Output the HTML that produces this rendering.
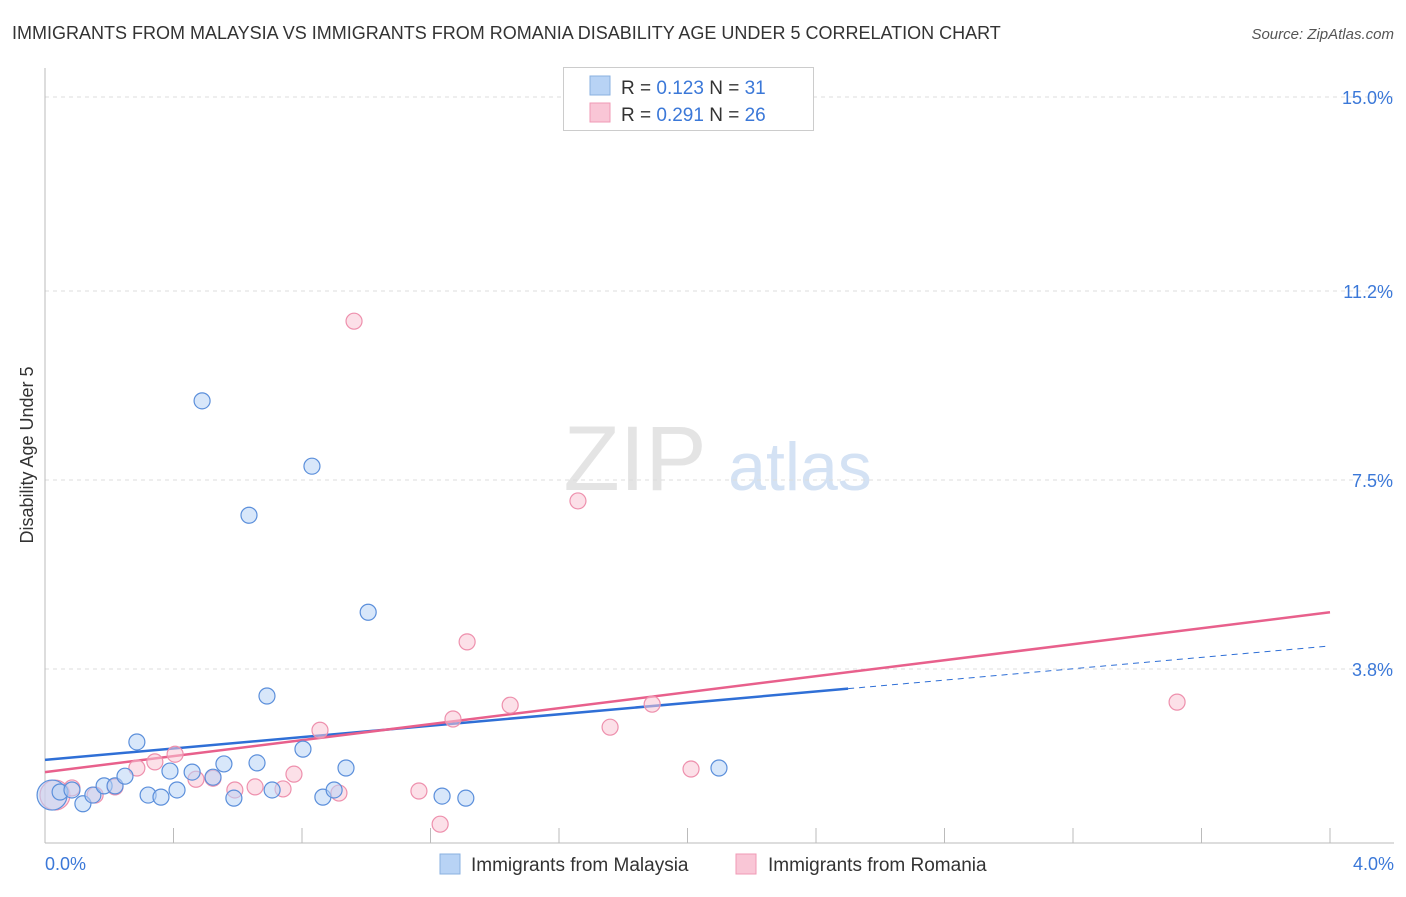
<!DOCTYPE html>
<html><head><meta charset="utf-8">
<style>
body{margin:0;background:#fff;font-family:"Liberation Sans",sans-serif;}
svg text{font-family:"Liberation Sans",sans-serif;}
</style></head>
<body>
<svg id="c" width="1406" height="892" viewBox="0 0 1406 892" xmlns="http://www.w3.org/2000/svg">
<text x="12" y="39" font-size="18" fill="#333">IMMIGRANTS FROM MALAYSIA VS IMMIGRANTS FROM ROMANIA DISABILITY AGE UNDER 5 CORRELATION CHART</text>
<text x="1394" y="39" font-size="15" fill="#555" font-style="italic" text-anchor="end">Source: ZipAtlas.com</text>
<text x="0" y="0" font-size="18" fill="#333" text-anchor="middle" transform="translate(33,455) rotate(-90)">Disability Age Under 5</text>
<g><text x="635" y="490" font-size="92" fill="#e4e4e4" font-family="Liberation Serif" text-anchor="middle">ZIP</text><text x="800" y="490" font-size="68" fill="#d4e2f4" text-anchor="middle">atlas</text></g>
<g id="grid"></g><g id="axes"></g><g id="trend"></g><g id="pts"></g>
<g>
<rect x="563.5" y="67.5" width="250" height="63" fill="#fff" stroke="#ccc"/>
<rect x="590" y="76" width="20" height="19" fill="#b8d3f5" stroke="#8ab0e0"/>
<rect x="590" y="103" width="20" height="19" fill="#f9c6d6" stroke="#f09ab5"/>
<text x="621" y="94" font-size="19" fill="#333">R = <tspan fill="#3b78d8">0.123</tspan>   N =  <tspan fill="#3b78d8">31</tspan></text>
<text x="621" y="121" font-size="19" fill="#333">R = <tspan fill="#3b78d8">0.291</tspan>   N = <tspan fill="#3b78d8">26</tspan></text>
</g>
<g>
<rect x="440" y="854" width="20" height="20" fill="#b8d3f5" stroke="#8ab0e0"/>
<text x="471" y="871" font-size="19" fill="#333">Immigrants from Malaysia</text>
<rect x="736" y="854" width="20" height="20" fill="#f9c6d6" stroke="#f09ab5"/>
<text x="768" y="871" font-size="19" fill="#333">Immigrants from Romania</text>
</g>
</svg>
<script>
const yTicks=[15.0,11.2,7.5,3.8];
const yTickLabels=["15.0%","11.2%","7.5%","3.8%"];
const xTickLabels=["0.0%","4.0%"];
const blueX=[0.022,0.047,0.084,0.118,0.149,0.184,0.218,0.249,0.286,0.321,0.361,0.389,0.411,0.458,0.489,0.523,0.557,0.588,0.635,0.660,0.691,0.707,0.803,0.831,0.865,0.900,0.937,1.006,1.236,1.310,2.098];
const blueY=[1.33,1.39,1.43,1.16,1.33,1.51,1.51,1.70,2.37,1.33,1.29,1.80,1.43,1.78,9.05,1.68,1.94,1.27,6.81,1.96,3.27,1.43,2.23,7.77,1.29,1.43,1.86,4.91,1.31,1.27,1.86];
const pinkX=[0.031,0.084,0.156,0.218,0.286,0.342,0.405,0.470,0.523,0.591,0.654,0.741,0.775,0.856,0.915,0.962,1.164,1.230,1.270,1.314,1.448,1.659,1.759,1.890,2.011,3.524];
const pinkY=[1.33,1.47,1.33,1.49,1.86,1.98,2.13,1.64,1.66,1.43,1.49,1.45,1.74,2.60,1.37,10.61,1.41,0.76,2.82,4.33,3.09,7.09,2.66,3.11,1.84,3.15];
const blueTrend=[2.02,4.25];
const pinkTrend=[1.78,4.91];
const blueSolidEnd=2.5;
const NS="http://www.w3.org/2000/svg";
const sx=v=>45+v/4*1285;
const sy=v=>863-v/3.75*191.5;
function mk(p,t,a){const e=document.createElementNS(NS,t);for(const k in a)e.setAttribute(k,a[k]);document.getElementById(p).appendChild(e);return e;}
yTicks.forEach((t,i)=>{
 const l=mk('grid','line',{x1:45,x2:1394,y1:sy(t),y2:sy(t),stroke:'#ddd','stroke-dasharray':'4,4'});
 
 
 const tx=mk('grid','text',{x:1393,y:sy(t)+7,'font-size':18,fill:'#3b78d8','text-anchor':'end'});
 tx.textContent=yTickLabels[i];
 
 
});
const ya=mk('axes','line',{x1:45,x2:45,y1:68,y2:843,stroke:'#bbb'});


const xa=mk('axes','line',{x1:45,x2:1394,y1:843,y2:843,stroke:'#bbb'});


for(let i=1;i<=10;i++){const t=mk('axes','line',{x1:sx(i*0.4),x2:sx(i*0.4),y1:828,y2:843,stroke:'#bbb'});
 
 }
[[0,'start',45],[4,'end',1394]].forEach((d,i)=>{const t=mk('axes','text',{x:d[2],y:870,'font-size':18,fill:'#3b78d8','text-anchor':d[1]});t.textContent=xTickLabels[i];
 
 });
function pts(X,Y,fill,stroke,name){X.forEach((x,i)=>{const r=(i===0)?15:8;
 const c=mk('pts','circle',{cx:sx(x),cy:sy(Y[i]),r:r,fill:fill,'fill-opacity':0.55,stroke:stroke,'stroke-width':1.2});
 
 });}
pts(pinkX,pinkY,'#f9c6d6','#ee90ad','point-romania');
pts(blueX,blueY,'#b8d3f5','#5b8fdb','point-malaysia');
const by=x=>blueTrend[0]+(blueTrend[1]-blueTrend[0])*x/4;
const b1=mk('trend','line',{x1:sx(0),y1:sy(by(0)),x2:sx(blueSolidEnd),y2:sy(by(blueSolidEnd)),stroke:'#2f6fd6','stroke-width':2.5});


const b2=mk('trend','line',{x1:sx(blueSolidEnd),y1:sy(by(blueSolidEnd)),x2:sx(4),y2:sy(by(4)),stroke:'#2f6fd6','stroke-width':1,'stroke-dasharray':'6,5'});


const p1=mk('trend','line',{x1:sx(0),y1:sy(pinkTrend[0]),x2:sx(4),y2:sy(pinkTrend[1]),stroke:'#e8608c','stroke-width':2.5});


</script>
</body></html>
